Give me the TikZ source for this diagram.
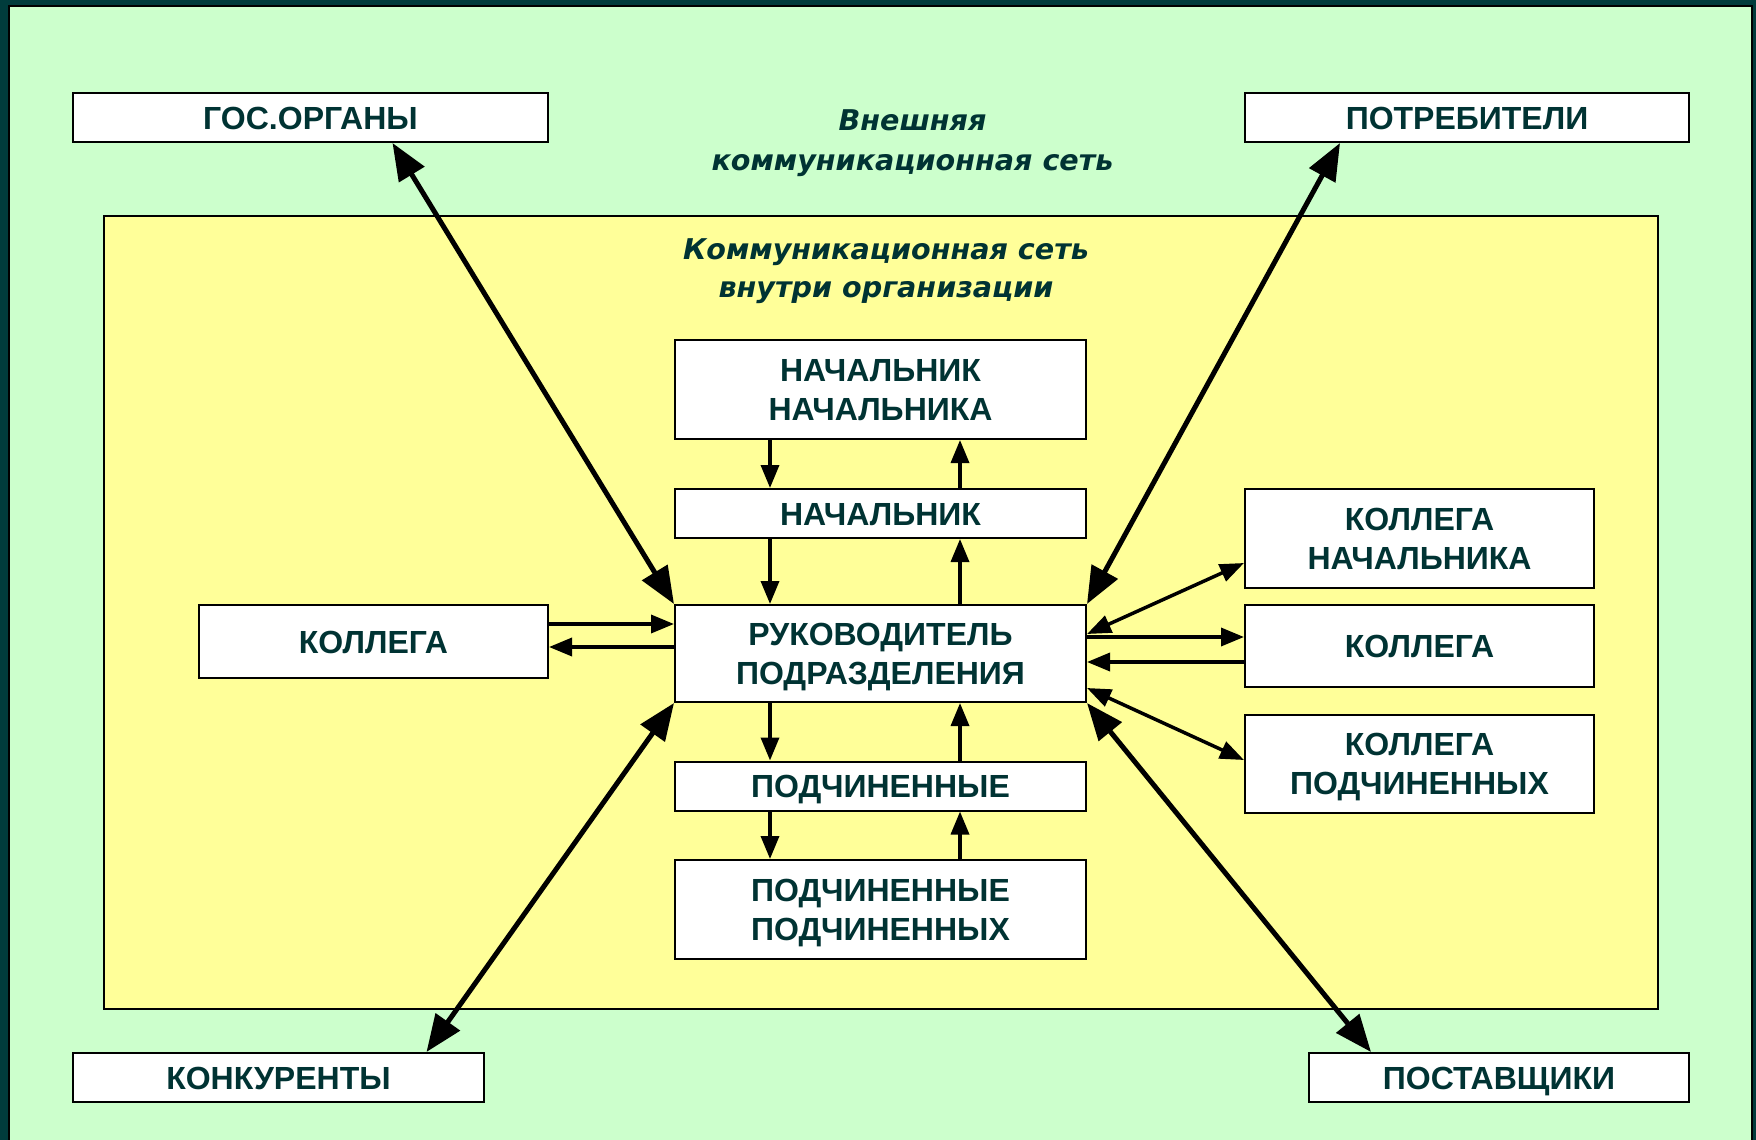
\documentclass[tikz,border=0pt]{standalone}
\usepackage{fontspec}
\setmainfont{Liberation Sans}
\newfontfamily\itfont{DejaVu Sans}
\usetikzlibrary{arrows.meta,calc}
\definecolor{bgdark}{HTML}{003C3C}
\definecolor{bggreen}{HTML}{CCFFCC}
\definecolor{bgyellow}{HTML}{FFFF99}
\definecolor{txt}{HTML}{003333}
\begin{document}
\begin{tikzpicture}[x=0.5pt,y=-0.5pt,
  box/.style={draw=black, line width=1pt, fill=white, inner sep=0pt, align=center, text=txt,
    font=\fontsize{16}{19.5}\selectfont\bfseries},
  one/.style={text height=11.5pt, text depth=0pt},
  net/.style={text=txt, font=\itfont\fontsize{14.3}{20}\selectfont\bfseries\itshape, anchor=base, inner sep=0pt},
  varr/.style={line width=1.75pt, -{Triangle[length=11.5pt,width=9pt]}},
  bigarr/.style={line width=2.5pt, {Triangle[length=18.5pt,width=14.5pt]}-{Triangle[length=18.5pt,width=14.5pt]}},
  dblarr/.style={line width=1.75pt, {Triangle[length=12pt,width=9pt]}-{Triangle[length=12pt,width=9pt]}},
]
\useasboundingbox (0,0) rectangle (1756,1140);
\fill[bgdark] (0,0) rectangle (1756,1140);
\draw[fill=bggreen, line width=1pt] (9,6) rectangle (1752,1150);
\draw[fill=bgyellow, line width=1pt] (104,216) rectangle (1658,1009);

\node[net] (t1a) at (912.5,130) {Внешняя};
\node[net] (t1b) at (912.5,170) {коммуникационная сеть};
\node[net] (t2a) at (886,259) {Коммуникационная сеть};
\node[net] (t2b) at (886,297) {внутри организации};

\node[box, one, minimum width=237.5pt, minimum height=24.5pt] (gos) at (310.5,117.5) {ГОС.ОРГАНЫ};
\node[box, one, minimum width=222pt, minimum height=24.5pt] (potr) at (1467,117.5) {ПОТРЕБИТЕЛИ};
\node[box, minimum width=205.5pt, minimum height=49.5pt] (nn) at (880.5,389.5) {НАЧАЛЬНИК\\\smash{НАЧАЛЬНИКА}};
\node[box, one, minimum width=205.5pt, minimum height=24.5pt] (nach) at (880.5,513.5) {НАЧАЛЬНИК};
\node[box, minimum width=205.5pt, minimum height=48.5pt] (ruk) at (880.5,653.5) {РУКОВОДИТЕЛЬ\\\smash{ПОДРАЗДЕЛЕНИЯ}};
\node[box, one, minimum width=205.5pt, minimum height=24.5pt] (pod) at (880.5,786) {ПОДЧИНЕННЫЕ};
\node[box, minimum width=205.5pt, minimum height=49.5pt] (pp) at (880.5,909.5) {ПОДЧИНЕННЫЕ\\\smash{ПОДЧИНЕННЫХ}};
\node[box, one, minimum width=174.5pt, minimum height=36.5pt] (kl) at (373.5,641.5) {КОЛЛЕГА};
\node[box, minimum width=174.5pt, minimum height=49.5pt] (kn) at (1419.5,538.5) {КОЛЛЕГА\\\smash{НАЧАЛЬНИКА}};
\node[box, one, minimum width=174.5pt, minimum height=41pt] (kr) at (1419.5,646) {КОЛЛЕГА};
\node[box, minimum width=174.5pt, minimum height=49pt] (kp) at (1419.5,764) {КОЛЛЕГА\\\smash{ПОДЧИНЕННЫХ}};
\node[box, one, minimum width=205.5pt, minimum height=24.5pt] (konk) at (278.5,1077.5) {КОНКУРЕНТЫ};
\node[box, one, minimum width=190pt, minimum height=24.5pt] (post) at (1499,1077.5) {ПОСТАВЩИКИ};

% external links
\draw[bigarr] ($(gos.south)+(82,0)$) -- (ruk.north west);
\draw[bigarr] ($(potr.south)+(-127,0)$) -- (ruk.north east);
\draw[bigarr] ($(konk.north)+(148,0)$) -- (ruk.south west);
\draw[bigarr] ($(post.north)+(-128,0)$) -- (ruk.south east);

% vertical chain
\coordinate (lx) at (770,0);
\coordinate (rx) at (960,0);
\draw[varr] (nn.south -| lx) -- (nach.north -| lx);
\draw[varr] (nach.north -| rx) -- (nn.south -| rx);
\draw[varr] (nach.south -| lx) -- (ruk.north -| lx);
\draw[varr] (ruk.north -| rx) -- (nach.south -| rx);
\draw[varr] (ruk.south -| lx) -- (pod.north -| lx);
\draw[varr] (pod.north -| rx) -- (ruk.south -| rx);
\draw[varr] (pod.south -| lx) -- (pp.north -| lx);
\draw[varr] (pp.north -| rx) -- (pod.south -| rx);

% left colleague
\coordinate (ya) at (0,624);
\coordinate (yb) at (0,647);
\draw[varr] (kl.east |- ya) -- (ruk.west |- ya);
\draw[varr] (ruk.west |- yb) -- (kl.east |- yb);

% right colleagues
\coordinate (yc) at (0,637);
\coordinate (yd) at (0,662);
\coordinate (ye) at (0,634);
\coordinate (yf) at (0,563);
\coordinate (yg) at (0,688);
\coordinate (yh) at (0,760);
\draw[varr] (ruk.east |- yc) -- (kr.west |- yc);
\draw[varr] (kr.west |- yd) -- (ruk.east |- yd);
\draw[dblarr] (ruk.east |- ye) -- (kn.west |- yf);
\draw[dblarr] (ruk.east |- yg) -- (kp.west |- yh);
\end{tikzpicture}
\end{document}
